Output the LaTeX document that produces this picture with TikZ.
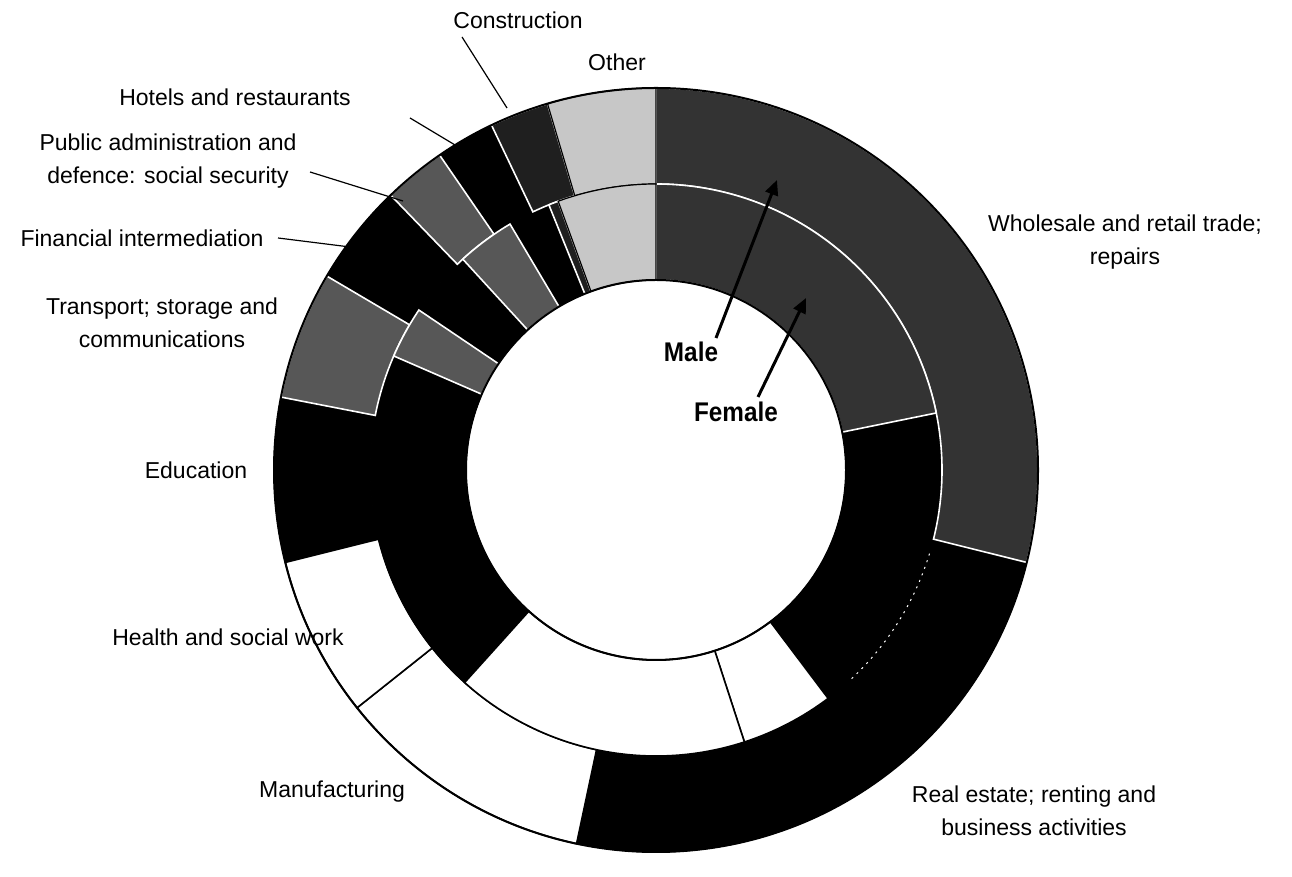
\documentclass[tikz,border=0pt]{standalone}
\usepackage{fontspec}
\setmainfont{Liberation Sans}
\newfontfamily\narrowbold[FakeStretch=0.9]{Liberation Sans}
\usetikzlibrary{calc,arrows.meta}
\newcommand{\ringseg}[5]{\draw[#5] ($(C)+(#1:#4pt)$) arc[start angle=#1,end angle=#2,radius=#4pt] -- ($(C)+(#2:#3pt)$) arc[start angle=#2,end angle=#1,radius=#3pt] -- cycle;}
\begin{document}
\begin{tikzpicture}[x=1pt,y=1pt,
  blk/.style={fill=black,draw=black,line width=1pt},
  wht/.style={fill=white,draw=black,line width=1.6pt},
  whs/.style={fill=black!80,draw=white,line width=1.6pt},
  spk/.style={fill=black!66,draw=white,line width=1.6pt},
  cons/.style={fill=black!88,draw=white,line width=1.6pt},
  oth/.style={fill=black!22,draw=black,line width=1.2pt},
  lbl/.style={font=\fontsize{23}{33}\selectfont,align=center,inner sep=0pt},
  sexlbl/.style={font=\narrowbold\bfseries\fontsize{27}{30}\selectfont,inner sep=0pt},
  leader/.style={draw=black,line width=1.2pt},
  sexarrow/.style={draw=black,line width=3pt,-{Triangle[length=15pt,width=13pt]}}]
\useasboundingbox (0,0) rectangle (1292,877);
\coordinate (C) at (656,407);
\def\Ra{382}\def\Rb{286}\def\Rc{286}\def\Rd{190}
% ---- outer ring (male): black and white segments
\ringseg{-14}{-102}{\Rb}{\Ra}{blk}
\ringseg{-166}{-191}{\Rb}{\Ra}{blk}
\ringseg{149.5}{134}{\Rb}{\Ra}{blk}
\ringseg{124.5}{115.5}{\Rb}{\Ra}{blk}
\ringseg{-102}{-141.5}{\Rb}{\Ra}{wht}
\ringseg{-141.5}{-166}{\Rb}{\Ra}{wht}
% ---- inner ring (female): black and white segments
\ringseg{11.5}{-53}{\Rd}{\Rc}{blk}
\ringseg{-132}{-203.5}{\Rd}{\Rc}{blk}
\ringseg{146}{132.5}{\Rd}{\Rc}{blk}
\ringseg{120.7}{112}{\Rd}{\Rc}{blk}
\ringseg{-53}{-72}{\Rd}{\Rc}{wht}
\ringseg{-72}{-132}{\Rd}{\Rc}{wht}
% faint white trace between the two black real-estate rings
\draw[white,line width=1pt,dash pattern=on 2pt off 5pt] ($(C)+(-17:286pt)$) arc[start angle=-17,end angle=-47,radius=286pt];
% ---- speckled segments
\ringseg{90}{-14}{\Rb}{\Ra}{whs}
\ringseg{169}{149.5}{\Rb}{\Ra}{spk}
\ringseg{134}{124.5}{\Rb}{\Ra}{spk}
\ringseg{115.5}{106.5}{\Rb}{\Ra}{cons}
\ringseg{90}{11.5}{\Rd}{\Rc}{whs}
\ringseg{156.5}{146}{\Rd}{\Rc}{spk}
\ringseg{132.5}{120.7}{\Rd}{\Rc}{spk}
\ringseg{112}{110}{\Rd}{\Rc}{cons}
\ringseg{106.5}{90}{\Rb}{\Ra}{oth}
\ringseg{110}{90}{\Rd}{\Rc}{oth}
% ---- outlines
\draw[line width=2pt] (C) circle[radius=\Ra pt];
\draw[line width=2pt] (C) circle[radius=\Rd pt];
% ---- labels
\node[lbl] (lcons) at (518,857) {Construction};
\node[lbl] (loth) at (617,815) {Other};
\node[lbl] (lhot) at (235,780) {Hotels and restaurants};
\node[lbl] (lpub) at (168,716) {Public administration and\\defence: social security};
\node[lbl] (lfin) at (142,639) {Financial intermediation};
\node[lbl] (ltra) at (162,554) {Transport; storage and\\communications};
\node[lbl] (ledu) at (196,407) {Education};
\node[lbl] (lhea) at (228,240) {Health and social work};
\node[lbl] (lman) at (332,85) {Manufacturing};
\node[lbl] (lrea) at (1034,66) {Real estate; renting and\\business activities};
\node[lbl] (lwho) at (1125,635) {Wholesale and retail trade;\\repairs};
\node[sexlbl] (lmale) at (691,525) {Male};
\node[sexlbl] (lfem) at (736,465) {Female};
% ---- leader lines
\coordinate (cons0) at (462,840); \coordinate (cons1) at (507,769);
\coordinate (hot0) at (410,759);  \coordinate (hot1) at (455,732);
\coordinate (pub0) at (310,705);  \coordinate (pub1) at (403,676);
\coordinate (fin0) at (278,639);  \coordinate (fin1) at (350,630);
\draw[leader] (cons0) -- (cons1);
\draw[leader] (hot0) -- (hot1);
\draw[leader] (pub0) -- (pub1);
\draw[leader] (fin0) -- (fin1);
% ---- male / female arrows
\coordinate (maletip) at (777,697);
\coordinate (femtip) at (806,579);
\coordinate (male0) at (716,539);
\coordinate (fem0) at (758,480);
\draw[sexarrow] (male0) -- (maletip);
\draw[sexarrow] (fem0) -- (femtip);
\end{tikzpicture}
\end{document}
